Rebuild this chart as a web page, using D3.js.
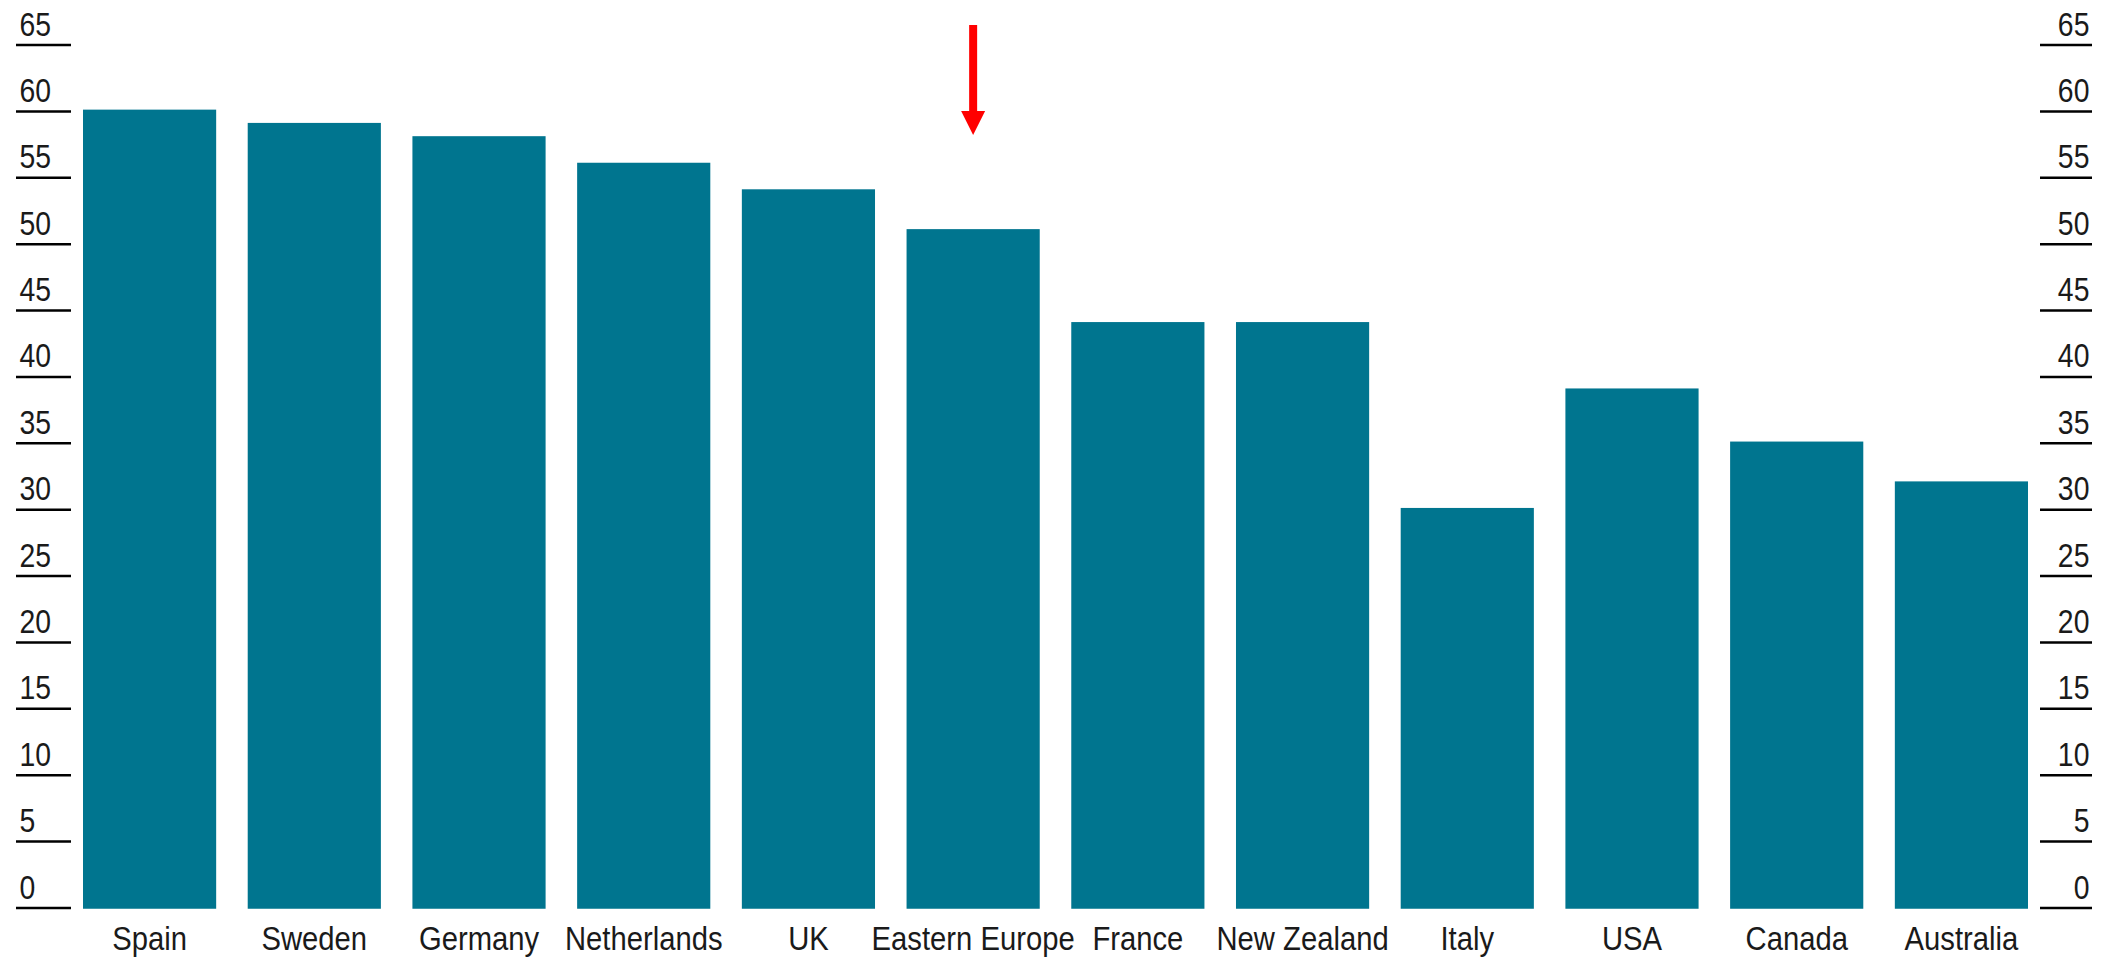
<!DOCTYPE html>
<html>
<head>
<meta charset="utf-8">
<script src="https://cdn.jsdelivr.net/npm/d3@7"></script>
<style>
  html, body { margin: 0; padding: 0; background: #ffffff; }
  svg { display: block; }
  .lbl { font-family: "Liberation Sans", Arial, sans-serif; fill: #1a1a1a; }
</style>
</head>
<body>
<svg id="chart" width="2106" height="957"></svg>
<script>
const categories = ["Spain", "Sweden", "Germany", "Netherlands", "UK", "Eastern Europe", "France", "New Zealand", "Italy", "USA", "Canada", "Australia"];
const values = [60, 59, 58, 56, 54, 51, 44, 44, 30, 39, 35, 32];
const tickValues = [0, 5, 10, 15, 20, 25, 30, 35, 40, 45, 50, 55, 60, 65];
const highlighted = "Eastern Europe";

const svg = d3.select("#chart");

const x = d3.scaleBand().domain(categories).range([83, 2028]).paddingInner(0.1915).paddingOuter(0);
const y = d3.scaleLinear().domain([0, 65]).range([907.5, 44.5]);

const lineW = 2.5;
const squeeze = "scale(0.86,1)";

// bars
svg.append("g").selectAll("rect")
  .data(categories)
  .join("rect")
  .attr("x", d => x(d))
  .attr("width", x.bandwidth())
  .attr("y", (d, i) => y(values[i]) - lineW / 2)
  .attr("height", (d, i) => y(0) - y(values[i]) + lineW)
  .attr("fill", "#00758f");

// left axis
const leftAxis = svg.append("g").attr("transform", "translate(16,0)")
  .call(d3.axisRight(y).tickValues(tickValues).tickSize(55).tickFormat(d3.format("d")));
leftAxis.select(".domain").remove();
leftAxis.selectAll(".tick line").attr("stroke", "#000").attr("stroke-width", lineW);
leftAxis.selectAll(".tick text")
  .attr("class", "lbl")
  .attr("x", 4).attr("dy", null).attr("y", -9.5)
  .attr("text-anchor", "start")
  .attr("transform", squeeze)
  .style("font-size", "33px");

// right axis
const rightAxis = svg.append("g").attr("transform", "translate(2092,0)")
  .call(d3.axisLeft(y).tickValues(tickValues).tickSize(52).tickFormat(d3.format("d")));
rightAxis.select(".domain").remove();
rightAxis.selectAll(".tick line").attr("stroke", "#000").attr("stroke-width", lineW);
rightAxis.selectAll(".tick text")
  .attr("class", "lbl")
  .attr("x", -3).attr("dy", null).attr("y", -9.5)
  .attr("text-anchor", "end")
  .attr("transform", squeeze)
  .style("font-size", "33px");

// category labels
const bottomAxis = svg.append("g").attr("transform", `translate(0,${y(0)})`)
  .call(d3.axisBottom(x).tickSize(0));
bottomAxis.select(".domain").remove();
bottomAxis.selectAll(".tick text")
  .attr("class", "lbl")
  .attr("dy", null).attr("y", 42.5)
  .attr("text-anchor", "middle")
  .attr("transform", squeeze)
  .style("font-size", "34px");

// red arrow above highlighted bar
const ax = x(highlighted) + x.bandwidth() / 2;
const arrow = svg.append("g").attr("fill", "#ff0000");
arrow.append("rect").attr("x", ax - 4).attr("y", 25).attr("width", 8).attr("height", 88);
arrow.append("path").attr("d", `M${ax - 12},111 L${ax + 12},111 L${ax},135 Z`);
</script>
</body>
</html>
